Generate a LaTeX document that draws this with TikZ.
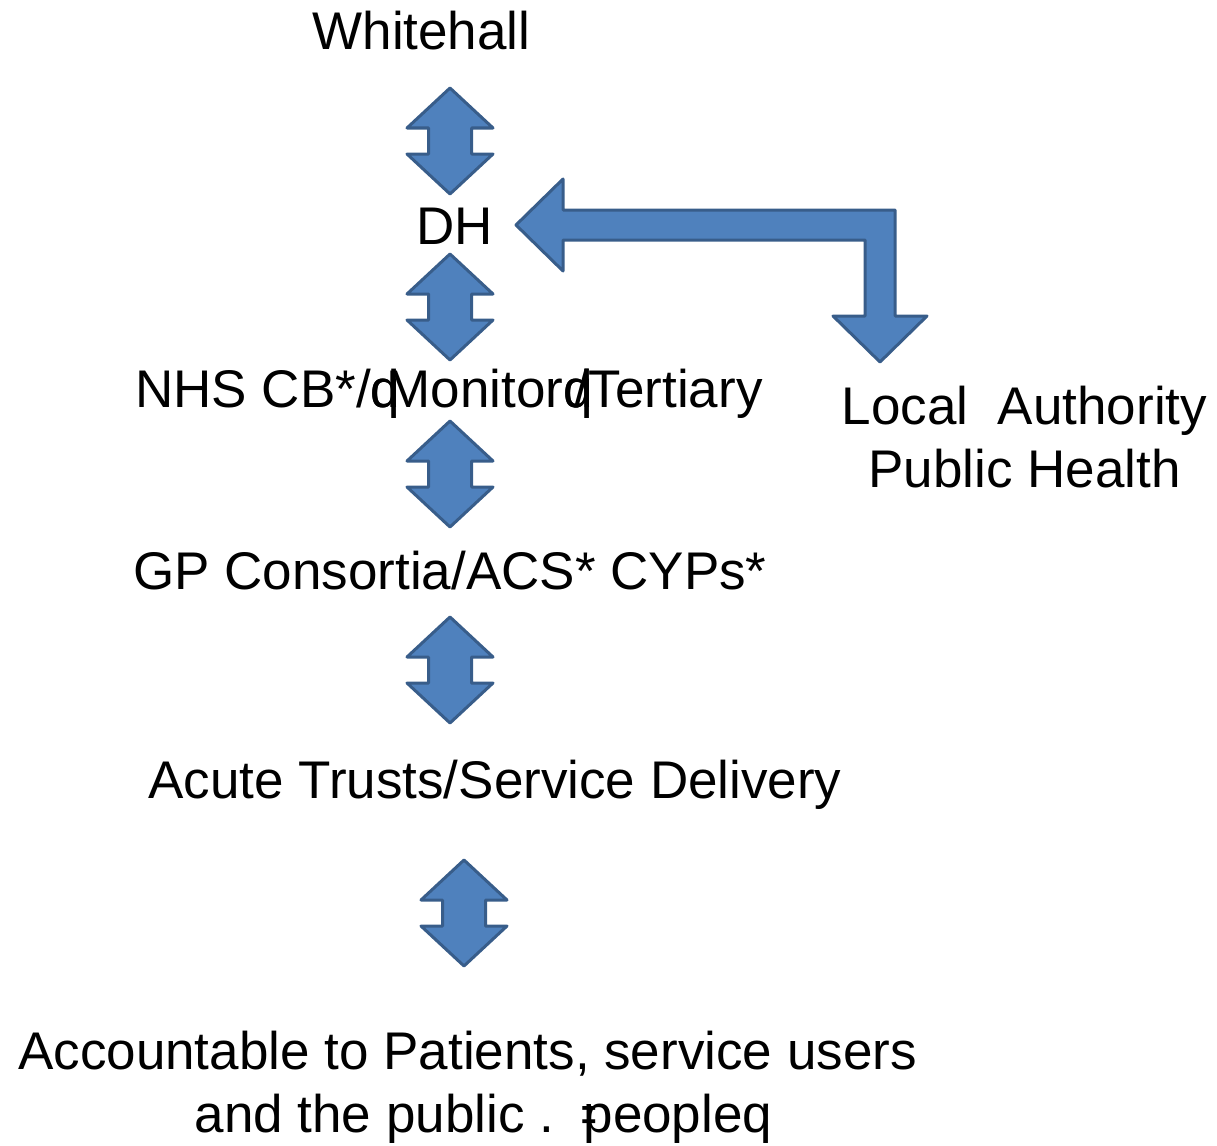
\documentclass[tikz,border=0pt]{standalone}
\usepackage{fontspec}
\setmainfont{Liberation Sans}
\usepackage{graphicx}
\definecolor{arrowfill}{HTML}{4F81BD}
\definecolor{arrowline}{HTML}{385D8A}
\newcommand{\oddquote}{\makebox[.3em][l]{\rlap{d}q}}

\begin{document}
\begin{tikzpicture}[x=1pt,y=-1pt,
    blk/.style={fill=arrowfill,draw=arrowline,line width=3pt,line join=round},
    updown/.pic={\draw[blk] (0,-53) -- (43,-13) -- (21.5,-13) -- (21.5,13) -- (43,13)
        -- (0,53) -- (-43,13) -- (-21.5,13) -- (-21.5,-13) -- (-43,-13) -- cycle;}]
    \tikzstyle{txt}=[inner sep=0pt,font=\fontsize{53}{63}\selectfont]
    \useasboundingbox (0,0) rectangle (1217,1145);

    \node[txt,anchor=base] (wh) at (421.5,50) {Whitehall};
    \node[txt,anchor=base] (dh) at (455,244) {DH};
    \node[txt,anchor=base] (nhs) at (449,407) {NHS CB*/\oddquote Monitor\oddquote\kern-.1em/Tertiary};
    \node[txt,anchor=base] (gp) at (450,589) {GP Consortia/ACS* CYPs*};
    \node[txt,anchor=base] (acute) at (495,798) {Acute Trusts/Service Delivery};
    \node[txt,anchor=north,align=center] (la) at (1024.5,386) {Local\ \ Authority\\Public Health};
    \node[txt,anchor=north,align=center] (acc) at (467.5,1031)
        {Accountable to Patients, service users\\\hspace*{.6em}and the public .\ \ \llap{\scalebox{.5}[1]{=}\kern-.25em}peopleq};

    % two-way arrows down the chain
    \pic at (450,141) {updown};
    \pic at (450,307) {updown};
    \pic at (450,474) {updown};
    \pic at (450,670) {updown};
    \pic at (464,913) {updown};

    % DH <-> local authority
    \coordinate (dhtip) at (516,225);
    \coordinate (latip) at (880,362);
    \draw[blk] (dhtip) -- ++(47,-46) -- ++(0,31) -- ++(332,0) -- ++(0,106) -- ++(32,0)
        -- (latip) -- ++(-47,-46) -- ++(32,0) -- ++(0,-76) -- ++(-302,0) -- ++(0,31) -- cycle;
\end{tikzpicture}
\end{document}
